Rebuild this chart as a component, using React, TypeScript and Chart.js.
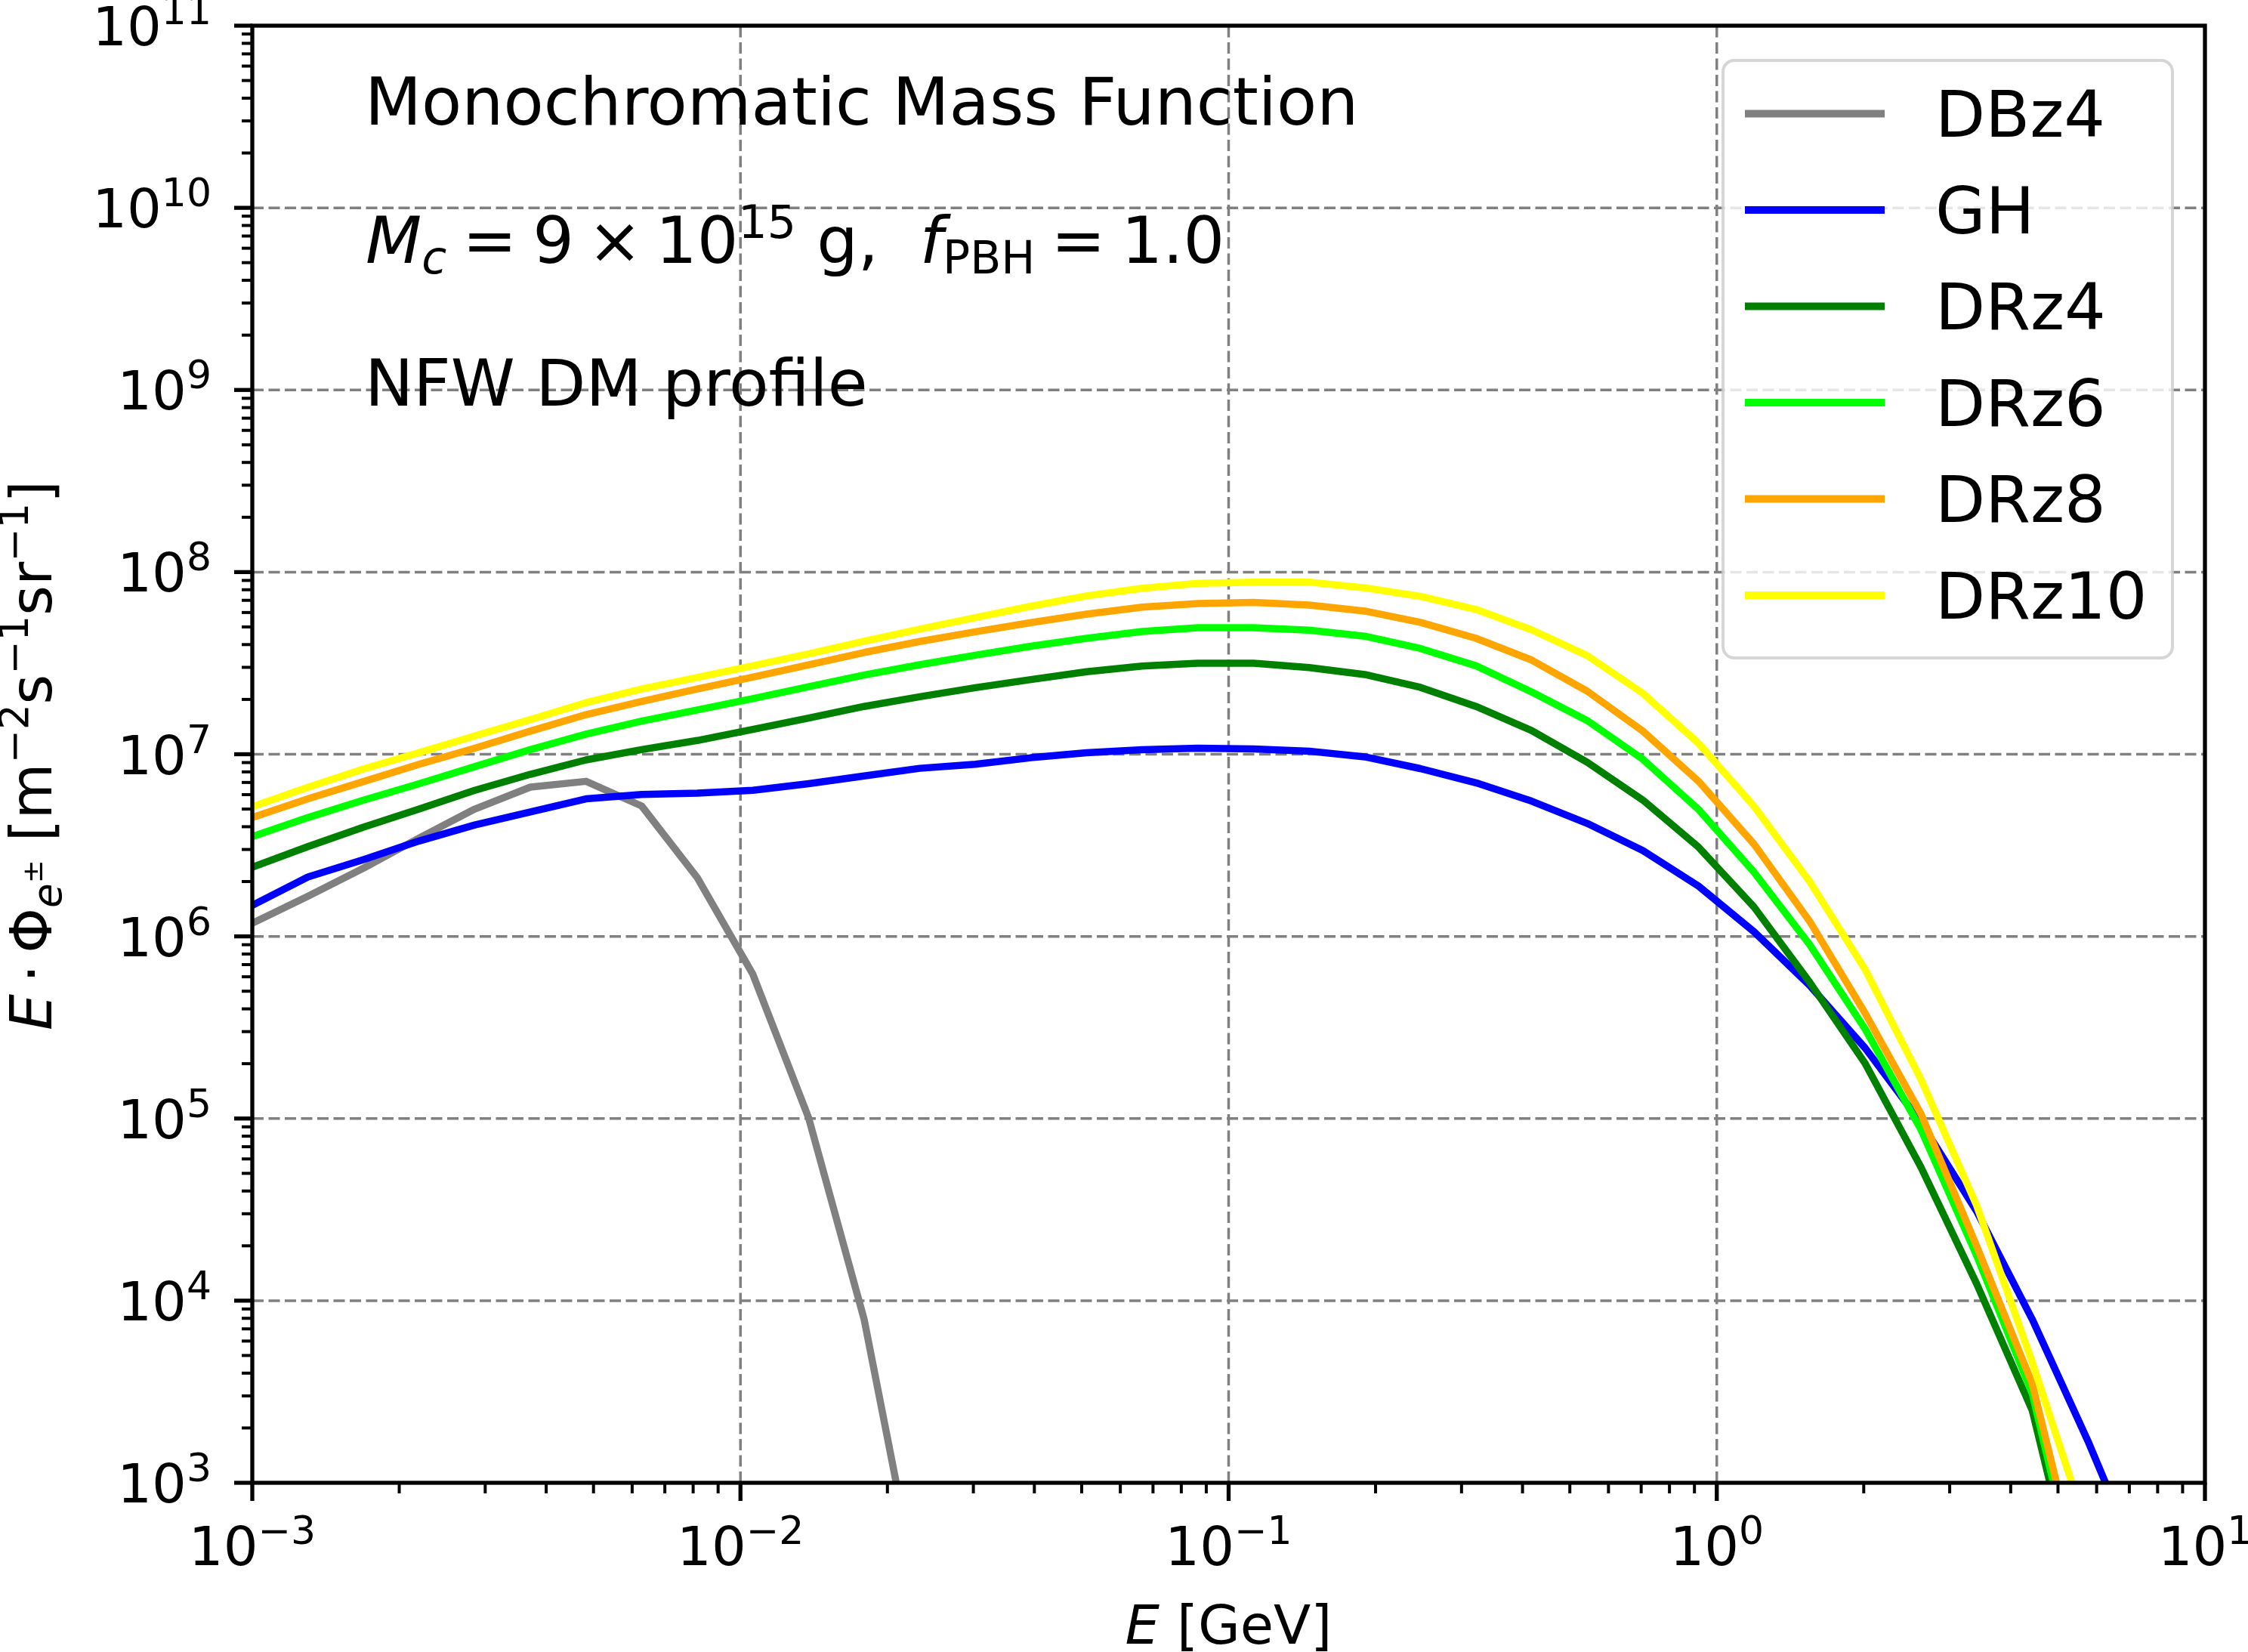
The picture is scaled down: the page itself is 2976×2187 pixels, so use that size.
import React, { useEffect, useRef } from "react";
import { Chart, registerables } from "chart.js";

Chart.register(...registerables);

const W = 2976;
const H = 2187;
const FONT = '"DejaVu Sans"';

// Energy grid [GeV]
const energies = [
  0.001, 0.0013, 0.00169, 0.002197, 0.002856, 0.003713, 0.004827, 0.006275, 0.008157, 0.0106,
  0.01379, 0.01792, 0.0233, 0.03029, 0.03937, 0.05119, 0.06654, 0.0865, 0.1125, 0.1462,
  0.19, 0.247, 0.3212, 0.4175, 0.5428, 0.7056, 0.9173, 1.192, 1.55, 2.015,
  2.62, 3.406, 4.428, 5.756, 7.483,
];

const seriesNames = ["DBz4", "GH", "DRz4", "DRz6", "DRz8", "DRz10"];
const seriesColors = ["#808080", "#0000ff", "#008000", "#00ff00", "#ffa500", "#ffff00"];

const dbz4 = [1.18e6, 1.66e6, 2.37e6, 3.47e6, 5.0e6, 6.6e6, 7.1e6, 5.2e6, 2.1e6, 6.2e5, 1.01e5, 7.9e3, 2.2e2];
const gh = [
  1.48e6, 2.12e6, 2.64e6, 3.34e6, 4.09e6, 4.82e6, 5.69e6, 6.01e6, 6.11e6, 6.34e6,
  6.89e6, 7.6e6, 8.37e6, 8.81e6, 9.57e6, 1.02e7, 1.06e7, 1.08e7, 1.07e7, 1.04e7,
  9.68e6, 8.34e6, 6.97e6, 5.53e6, 4.17e6, 2.96e6, 1.89e6, 1.06e6, 5.38e5, 2.43e5,
  9.5e4, 3.1e4, 7.9e3, 1.7e3, 3.2e2,
];
const drz4 = [
  2.4e6, 3.11e6, 3.98e6, 5.0e6, 6.34e6, 7.76e6, 9.31e6, 1.06e7, 1.19e7, 1.37e7,
  1.58e7, 1.83e7, 2.07e7, 2.32e7, 2.57e7, 2.84e7, 3.05e7, 3.16e7, 3.16e7, 2.99e7,
  2.74e7, 2.33e7, 1.83e7, 1.35e7, 9.04e6, 5.6e6, 3.09e6, 1.45e6, 5.6e5, 2.0e5,
  5.4e4, 1.24e4, 2.5e3, 1.4e2,
];
const drz6 = [
  3.53e6, 4.49e6, 5.6e6, 6.89e6, 8.55e6, 1.06e7, 1.29e7, 1.52e7, 1.75e7, 2.02e7,
  2.35e7, 2.72e7, 3.1e7, 3.5e7, 3.92e7, 4.33e7, 4.72e7, 4.95e7, 4.95e7, 4.8e7,
  4.45e7, 3.81e7, 3.06e7, 2.2e7, 1.53e7, 9.38e6, 4.98e6, 2.25e6, 9.0e5, 3.09e5,
  8.7e4, 1.77e4, 3.1e3, 1.6e2,
];
const drz8 = [
  4.49e6, 5.69e6, 7.08e6, 8.81e6, 1.08e7, 1.34e7, 1.65e7, 1.95e7, 2.28e7, 2.65e7,
  3.1e7, 3.62e7, 4.16e7, 4.7e7, 5.28e7, 5.88e7, 6.42e7, 6.72e7, 6.81e7, 6.59e7,
  6.11e7, 5.3e7, 4.33e7, 3.29e7, 2.22e7, 1.34e7, 7.11e6, 3.21e6, 1.21e6, 3.77e5,
  1.06e5, 2.0e4, 3.5e3, 2.0e2,
];
const drz10 = [
  5.15e6, 6.59e6, 8.3e6, 1.02e7, 1.26e7, 1.55e7, 1.92e7, 2.28e7, 2.64e7, 3.06e7,
  3.56e7, 4.17e7, 4.86e7, 5.62e7, 6.5e7, 7.4e7, 8.15e7, 8.67e7, 8.81e7, 8.81e7,
  8.2e7, 7.36e7, 6.24e7, 4.82e7, 3.48e7, 2.16e7, 1.15e7, 5.18e6, 2.0e6, 6.56e5,
  1.64e5, 3.34e4, 4.6e3, 5.4e2,
];
const seriesValues = [dbz4, gh, drz4, drz6, drz8, drz10];

const xTickExps = [-3, -2, -1, 0, 1];
const yTickExps = [3, 4, 5, 6, 7, 8, 9, 10, 11];
const minorMultipliers = [2, 3, 4, 5, 6, 7, 8, 9];

const annotLine1 = "Monochromatic Mass Function";
const annotLine3 = "NFW DM profile";

type Seg = { t?: string; s?: number; it?: boolean; dy?: number; gap?: number };

function segFont(sg: Seg) {
  return `${sg.it ? "italic " : ""}${sg.s || 72}px ${FONT}`;
}

function drawRich(ctx: CanvasRenderingContext2D, segs: Seg[], x: number, y: number, align: string) {
  let total = 0;
  const ws = segs.map((sg) => {
    if (sg.gap !== undefined) {
      total += sg.gap;
      return sg.gap;
    }
    ctx.font = segFont(sg);
    const w = ctx.measureText(sg.t || "").width;
    total += w;
    return w;
  });
  let cx = align === "left" ? x : align === "center" ? x - total / 2 : x - total;
  ctx.textAlign = "left";
  ctx.textBaseline = "alphabetic";
  segs.forEach((sg, i) => {
    if (sg.gap === undefined) {
      ctx.font = segFont(sg);
      ctx.fillText(sg.t || "", cx, y + (sg.dy || 0));
    }
    cx += ws[i];
  });
}

function expLabel(e: number): Seg[] {
  return [
    { t: "10", s: 72 },
    { t: String(e).replace("-", "\u2212"), s: 52, dy: -28 },
  ];
}

const overlayPlugin = {
  id: "overlay",
  beforeDraw(chart: any) {
    const ctx = chart.ctx;
    ctx.save();
    ctx.fillStyle = "#ffffff";
    ctx.fillRect(0, 0, chart.width, chart.height);
    ctx.restore();
  },
  beforeDatasetsDraw(chart: any) {
    const ctx: CanvasRenderingContext2D = chart.ctx;
    const { left, right, top, bottom } = chart.chartArea;
    const xs = chart.scales.x;
    const ys = chart.scales.y;
    ctx.save();
    ctx.strokeStyle = "#808080";
    ctx.lineWidth = 3.5;
    ctx.setLineDash([15, 6.5]);
    xTickExps.forEach((e) => {
      const px = xs.getPixelForValue(Math.pow(10, e));
      if (px <= left + 1 || px >= right - 1) return;
      ctx.beginPath();
      ctx.moveTo(px, bottom);
      ctx.lineTo(px, top);
      ctx.stroke();
    });
    yTickExps.forEach((e) => {
      const py = ys.getPixelForValue(Math.pow(10, e));
      if (py <= top + 1 || py >= bottom - 1) return;
      ctx.beginPath();
      ctx.moveTo(left, py);
      ctx.lineTo(right, py);
      ctx.stroke();
    });
    ctx.restore();
  },
  afterDatasetsDraw(chart: any) {
    const ctx: CanvasRenderingContext2D = chart.ctx;
    const { left, right, top, bottom } = chart.chartArea;
    const xs = chart.scales.x;
    const ys = chart.scales.y;
    ctx.save();

    // ticks
    ctx.strokeStyle = "#000000";
    ctx.setLineDash([]);
    const xMax = Math.pow(10, xTickExps[xTickExps.length - 1]);
    const yMax = Math.pow(10, yTickExps[yTickExps.length - 1]);
    xTickExps.forEach((e) => {
      const v = Math.pow(10, e);
      const px = xs.getPixelForValue(v);
      ctx.lineWidth = 5.3;
      ctx.beginPath();
      ctx.moveTo(px, bottom);
      ctx.lineTo(px, bottom + 24);
      ctx.stroke();
      minorMultipliers.forEach((m) => {
        const mv = m * v;
        if (mv > xMax) return;
        const mp = xs.getPixelForValue(mv);
        ctx.lineWidth = 4;
        ctx.beginPath();
        ctx.moveTo(mp, bottom);
        ctx.lineTo(mp, bottom + 14);
        ctx.stroke();
      });
    });
    yTickExps.forEach((e) => {
      const v = Math.pow(10, e);
      const py = ys.getPixelForValue(v);
      ctx.lineWidth = 5.3;
      ctx.beginPath();
      ctx.moveTo(left, py);
      ctx.lineTo(left - 24, py);
      ctx.stroke();
      minorMultipliers.forEach((m) => {
        const mv = m * v;
        if (mv > yMax) return;
        const mp = ys.getPixelForValue(mv);
        ctx.lineWidth = 4;
        ctx.beginPath();
        ctx.moveTo(left, mp);
        ctx.lineTo(left - 14, mp);
        ctx.stroke();
      });
    });

    // spines
    ctx.lineWidth = 5.3;
    ctx.strokeRect(left, top, right - left, bottom - top);

    // tick labels
    ctx.fillStyle = "#000000";
    xTickExps.forEach((e) => {
      const px = xs.getPixelForValue(Math.pow(10, e));
      drawRich(ctx, expLabel(e), px, bottom + 109, "center");
    });
    yTickExps.forEach((e) => {
      const py = ys.getPixelForValue(Math.pow(10, e));
      drawRich(ctx, expLabel(e), 280, py + 26, "right");
    });

    // axis labels
    drawRich(ctx, [{ t: "E", s: 72, it: true }, { t: " [GeV]", s: 72 }], (left + right) / 2, 2176, "center");
    ctx.save();
    ctx.translate(68, 1000);
    ctx.rotate(-Math.PI / 2);
    drawRich(
      ctx,
      [
        { t: "E", s: 76, it: true },
        { gap: 15 },
        { t: "\u00b7", s: 76 },
        { gap: 15 },
        { t: "\u03a6", s: 76 },
        { t: "e", s: 53, it: true, dy: 13 },
        { t: "\u00b1", s: 37, dy: -12 },
        { t: " [m", s: 76 },
        { t: "\u22122", s: 53, dy: -31 },
        { t: "s", s: 76 },
        { t: "\u22121", s: 53, dy: -31 },
        { t: "sr", s: 76 },
        { t: "\u22121", s: 53, dy: -31 },
        { t: "]", s: 76 },
      ],
      0,
      0,
      "center"
    );
    ctx.restore();

    // annotations
    drawRich(ctx, [{ t: annotLine1, s: 87 }], 483, 165, "left");
    drawRich(
      ctx,
      [
        { t: "M", s: 86, it: true },
        { t: "c", s: 60, it: true, dy: 14 },
        { gap: 21 },
        { t: "=", s: 86 },
        { gap: 21 },
        { t: "9", s: 86 },
        { gap: 18 },
        { t: "\u00d7", s: 86 },
        { gap: 18 },
        { t: "10", s: 86 },
        { t: "15", s: 60, dy: -33 },
        { t: " g,  ", s: 86 },
        { t: "f", s: 86, it: true },
        { t: "PBH", s: 60, dy: 14 },
        { gap: 21 },
        { t: "=", s: 86 },
        { gap: 21 },
        { t: "1.0", s: 86 },
      ],
      484,
      348,
      "left"
    );
    drawRich(ctx, [{ t: annotLine3, s: 86 }], 483, 537, "left");

    // legend
    const lx = 2281;
    const ly = 80;
    const lw = 595;
    const lh = 791;
    const r = 15;
    ctx.beginPath();
    ctx.moveTo(lx + r, ly);
    ctx.lineTo(lx + lw - r, ly);
    ctx.arcTo(lx + lw, ly, lx + lw, ly + r, r);
    ctx.lineTo(lx + lw, ly + lh - r);
    ctx.arcTo(lx + lw, ly + lh, lx + lw - r, ly + lh, r);
    ctx.lineTo(lx + r, ly + lh);
    ctx.arcTo(lx, ly + lh, lx, ly + lh - r, r);
    ctx.lineTo(lx, ly + r);
    ctx.arcTo(lx, ly, lx + r, ly, r);
    ctx.closePath();
    ctx.fillStyle = "rgba(255,255,255,0.8)";
    ctx.fill();
    ctx.lineWidth = 4;
    ctx.strokeStyle = "rgba(204,204,204,0.8)";
    ctx.stroke();

    seriesNames.forEach((name, i) => {
      const rowY = 150.4 + i * 127.5;
      ctx.strokeStyle = seriesColors[i];
      ctx.lineWidth = 10;
      ctx.lineCap = "butt";
      ctx.beginPath();
      ctx.moveTo(2310, rowY);
      ctx.lineTo(2495, rowY);
      ctx.stroke();
      ctx.fillStyle = "#000000";
      drawRich(ctx, [{ t: name, s: 86 }], 2562, rowY + 31, "left");
    });

    ctx.restore();
  },
};

export default function App() {
  const canvasRef = useRef<HTMLCanvasElement | null>(null);

  useEffect(() => {
    document.body.style.margin = "0";
    const canvas = canvasRef.current;
    if (!canvas) return;
    const datasets = seriesNames.map((name, i) => ({
      label: name,
      data: seriesValues[i].map((v, k) => ({ x: energies[k], y: v })),
      borderColor: seriesColors[i],
      backgroundColor: seriesColors[i],
      borderWidth: 9.5,
      pointRadius: 0,
      pointHoverRadius: 0,
      fill: false,
      tension: 0,
      borderJoinStyle: "round" as const,
      borderCapStyle: "butt" as const,
      clip: 0,
      order: seriesNames.length - i,
    }));
    const chart = new Chart(canvas, {
      type: "line",
      data: { datasets },
      options: {
        animation: false,
        responsive: false,
        devicePixelRatio: 1,
        events: [],
        layout: { padding: { top: 34, right: 57, left: 0, bottom: 0 } },
        plugins: { legend: { display: false }, tooltip: { enabled: false } },
        scales: {
          x: {
            type: "logarithmic",
            min: Math.pow(10, xTickExps[0]),
            max: Math.pow(10, xTickExps[xTickExps.length - 1]),
            grid: { display: false },
            border: { display: false },
            ticks: { display: false },
            afterFit: (s: any) => {
              s.height = 224;
            },
          },
          y: {
            type: "logarithmic",
            min: Math.pow(10, yTickExps[0]),
            max: Math.pow(10, yTickExps[yTickExps.length - 1]),
            grid: { display: false },
            border: { display: false },
            ticks: { display: false },
            afterFit: (s: any) => {
              s.width = 334;
            },
          },
        },
      } as any,
      plugins: [overlayPlugin],
    });
    return () => chart.destroy();
  }, []);

  return (
    <div style={{ position: "fixed", left: 0, top: 0, width: W, height: H, overflow: "hidden", background: "#fff" }}>
      <canvas ref={canvasRef} width={W} height={H} style={{ display: "block", width: W, height: H }} />
    </div>
  );
}
